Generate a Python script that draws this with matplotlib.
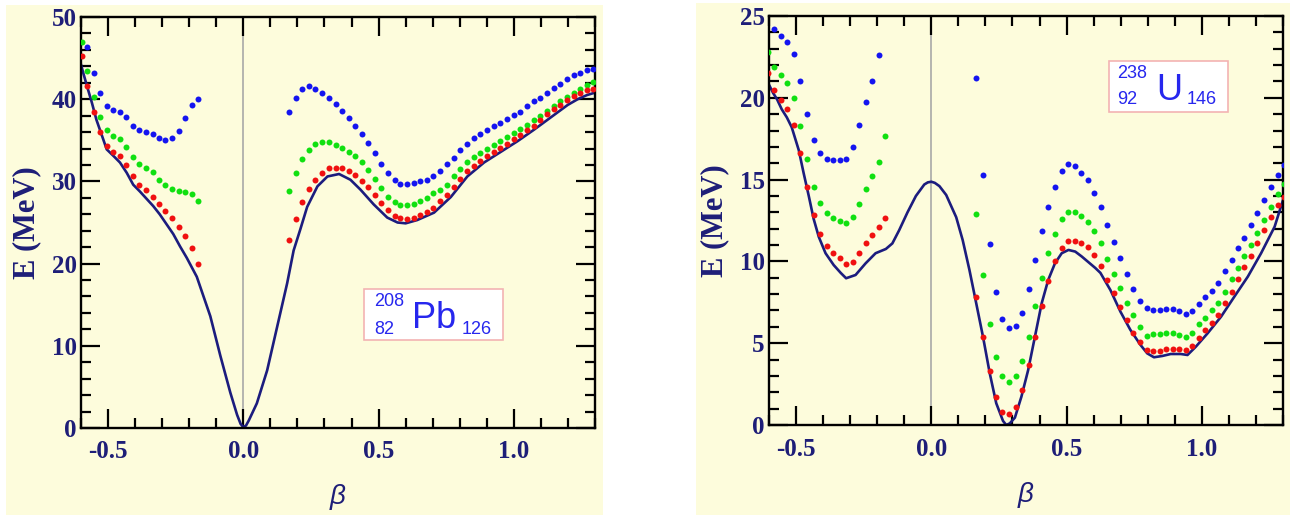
import numpy as np
import matplotlib
matplotlib.use("Agg")
import matplotlib.pyplot as plt
from matplotlib.patches import Rectangle
from matplotlib.ticker import MultipleLocator, FormatStrFormatter

nan = float("nan")

# ---- 208Pb ----
pb_beta_l = [-0.598, -0.577, -0.552, -0.530, -0.505, -0.480, -0.456, -0.433, -0.409, -0.384,
             -0.359, -0.335, -0.310, -0.288, -0.263, -0.238, -0.214, -0.190, -0.166]
pb_blue_l = [nan, 46.4, 43.2, 40.7, 39.2, 38.7, 38.5, 37.8, 36.8, 36.2,
             36.0, 35.8, 35.3, 35.0, 35.3, 36.1, 37.7, 39.3, 40.0]
pb_green_l = [47.0, 43.4, 40.3, 37.8, 36.2, 35.5, 35.1, 34.2, 33.0, 32.1,
              31.6, 31.1, 30.2, 29.6, 29.1, 28.8, 28.7, 28.5, 27.6]
pb_red_l = [45.2, 41.6, 38.4, 36.0, 34.3, 33.6, 33.1, 32.0, 30.6, 29.6,
            28.9, 28.1, 27.3, 26.4, 25.5, 24.5, 23.4, 21.9, 19.9]

pb_beta_r = [0.169, 0.194, 0.217, 0.241, 0.265, 0.291, 0.316, 0.341, 0.365, 0.390,
             0.412, 0.437, 0.462, 0.485, 0.510, 0.535, 0.559, 0.581, 0.606, 0.630,
             0.653, 0.678, 0.703, 0.727, 0.752, 0.777, 0.801, 0.826, 0.851, 0.875,
             0.900, 0.925, 0.949, 0.974, 0.999, 1.023, 1.048, 1.073, 1.097, 1.122,
             1.147, 1.171, 1.196, 1.221, 1.245, 1.270, 1.293]
pb_blue_r = [38.5, 40.1, 41.3, 41.6, 41.3, 40.8, 40.1, 39.4, 38.6, 37.7,
             36.7, 35.8, 34.7, 33.4, 32.15, 31.0, 30.2, 29.7, 29.7, 29.8,
             30.0, 30.2, 30.6, 31.3, 32.1, 32.9, 33.8, 34.6, 35.3, 35.8,
             36.3, 36.7, 37.1, 37.6, 38.1, 38.5, 39.2, 39.8, 40.2, 40.8,
             41.4, 41.9, 42.4, 42.9, 43.2, 43.5, 43.7]
pb_green_r = [28.8, 31.0, 32.7, 33.8, 34.6, 34.8, 34.8, 34.45, 34.1, 33.6,
              33.1, 32.35, 31.4, 30.3, 29.2, 28.1, 27.5, 27.1, 27.1, 27.3,
              27.6, 28.0, 28.6, 29.0, 29.6, 30.6, 31.5, 32.3, 33.0, 33.5,
              34.0, 34.45, 34.9, 35.4, 35.9, 36.4, 36.9, 37.45, 38.0, 38.6,
              39.2, 39.8, 40.3, 40.8, 41.3, 41.7, 42.1]
pb_red_r = [22.9, 25.4, 27.5, 29.1, 30.2, 31.05, 31.6, 31.65, 31.6, 31.25,
            30.8, 30.0, 29.3, 28.4, 27.4, 26.5, 25.8, 25.5, 25.4, 25.55,
            25.9, 26.3, 26.8, 27.6, 28.4, 29.3, 30.3, 31.25, 31.9, 32.5,
            33.1, 33.55, 34.1, 34.6, 35.1, 35.7, 36.2, 36.8, 37.45, 38.15,
            38.75, 39.35, 39.95, 40.35, 40.75, 41.1, 41.25]

pb_line_beta = [-0.600, -0.590, -0.577, -0.560, -0.543, -0.525, -0.505, -0.480, -0.456, -0.431,
                -0.407, -0.383, -0.358, -0.333, -0.309, -0.284, -0.259, -0.234, -0.209, -0.172,
                -0.122, -0.085, -0.048, -0.023, -0.010, 0.0, 0.010, 0.020, 0.050, 0.088,
                0.125, 0.162, 0.186, 0.211, 0.236, 0.274, 0.311, 0.354, 0.396, 0.433,
                0.482, 0.532, 0.570, 0.600, 0.643, 0.705, 0.767, 0.828, 0.890, 0.952,
                1.014, 1.075, 1.137, 1.199, 1.236, 1.270, 1.300]
pb_line_e = [44.2, 43.0, 41.5, 39.6, 37.5, 35.8, 33.9, 33.1, 32.3, 31.05,
             29.6, 28.8, 27.9, 27.0, 26.0, 24.8, 23.6, 22.1, 20.7, 18.4,
             13.6, 8.8, 4.3, 1.6, 0.5, 0.1, 0.3, 0.9, 3.0, 7.0,
             12.3, 17.6, 21.6, 24.2, 26.9, 29.4, 30.6, 30.9, 30.2, 29.0,
             27.2, 25.6, 25.0, 24.9, 25.3, 26.2, 28.1, 30.6, 32.3, 33.6,
             34.9, 36.3, 37.8, 39.3, 40.0, 40.5, 40.8]

# ---- 238U ----
u_beta_l = [-0.602, -0.580, -0.555, -0.532, -0.509, -0.484, -0.460, -0.435, -0.410, -0.385,
            -0.362, -0.338, -0.315, -0.290, -0.267, -0.242, -0.218, -0.194, -0.170]
u_blue_l = [nan, 24.2, 23.8, 23.4, 22.7, 21.0, 19.0, 17.45, 16.65, 16.25,
            16.2, 16.17, 16.25, 17.0, 18.35, 19.75, 21.0, 22.6, nan]
u_green_l = [22.8, 21.9, 21.4, 20.9, 20.0, 18.25, 16.25, 14.55, 13.55, 12.95,
             12.65, 12.45, 12.35, 12.7, 13.5, 14.45, 15.2, 16.05, 17.65]
u_red_l = [21.5, 20.5, 19.85, 19.3, 18.35, 16.6, 14.55, 12.85, 11.7, 10.95,
           10.5, 10.2, 9.85, 9.96, 10.5, 11.1, 11.6, 12.1, 12.65]

u_beta_r = [0.167, 0.191, 0.216, 0.238, 0.263, 0.287, 0.312, 0.337, 0.361, 0.384,
            0.409, 0.432, 0.457, 0.482, 0.506, 0.530, 0.554, 0.579, 0.602, 0.627,
            0.649, 0.674, 0.699, 0.724, 0.746, 0.771, 0.796, 0.821, 0.844, 0.867,
            0.892, 0.916, 0.940, 0.964, 0.988, 1.013, 1.037, 1.061, 1.086, 1.110,
            1.134, 1.157, 1.181, 1.204, 1.228, 1.255, 1.280, 1.302]
u_blue_r = [21.2, 15.3, 11.05, 8.15, 6.5, 5.9, 6.05, 6.85, 8.3, 10.1,
            11.85, 13.3, 14.55, 15.5, 15.95, 15.85, 15.4, 14.95, 14.2, 13.3,
            12.25, 11.2, 10.2, 9.25, 8.3, 7.6, 7.15, 7.0, 7.05, 7.1,
            7.1, 6.95, 6.8, 6.95, 7.4, 7.85, 8.2, 8.7, 9.4, 10.1,
            10.8, 11.45, 12.2, 12.95, 13.75, 14.55, 15.3, 15.9]
u_green_r = [12.9, 9.15, 6.2, 4.15, 3.0, 2.65, 3.0, 3.9, 5.35, 7.25,
             9.0, 10.5, 11.7, 12.6, 13.0, 13.0, 12.75, 12.4, 11.85, 11.1,
             10.15, 9.25, 8.35, 7.45, 6.7, 6.0, 5.45, 5.55, 5.55, 5.6,
             5.6, 5.5, 5.4, 5.65, 6.15, 6.55, 7.0, 7.45, 8.15, 8.9,
             9.6, 10.3, 11.0, 11.75, 12.55, 13.35, 14.1, 14.75]
u_red_r = [7.8, 5.35, 3.3, 1.7, 0.8, 0.65, 1.1, 2.15, 3.65, 5.4,
           7.25, 8.8, 10.0, 10.8, 11.25, 11.25, 11.1, 10.85, 10.4, 9.7,
           8.85, 8.05, 7.2, 6.4, 5.65, 5.05, 4.6, 4.55, 4.55, 4.65,
           4.65, 4.65, 4.6, 4.85, 5.3, 5.8, 6.25, 6.75, 7.45, 8.15,
           8.9, 9.65, 10.35, 11.1, 11.9, 12.7, 13.45, 13.95]

u_line_beta = [-0.600, -0.585, -0.570, -0.553, -0.534, -0.516, -0.490, -0.472, -0.453, -0.435,
               -0.416, -0.391, -0.361, -0.335, -0.315, -0.280, -0.243, -0.206, -0.168, -0.144,
               -0.119, -0.088, -0.057, -0.026, -0.013, 0.0, 0.013, 0.030, 0.055, 0.092,
               0.116, 0.141, 0.166, 0.191, 0.216, 0.240, 0.265, 0.277, 0.290, 0.309,
               0.333, 0.358, 0.383, 0.408, 0.432, 0.457, 0.482, 0.507, 0.532, 0.556,
               0.581, 0.606, 0.625, 0.662, 0.699, 0.736, 0.773, 0.798, 0.823, 0.854,
               0.885, 0.922, 0.947, 0.978, 1.021, 1.071, 1.120, 1.170, 1.219, 1.269,
               1.300]
u_line_e = [20.8, 20.3, 19.9, 19.3, 18.8, 18.2, 16.8, 15.4, 14.0, 12.6,
            11.5, 10.5, 9.78, 9.3, 8.97, 9.17, 9.88, 10.5, 10.76, 11.1,
            11.9, 13.0, 14.0, 14.7, 14.83, 14.87, 14.8, 14.6, 14.06, 12.7,
            11.3, 9.47, 7.44, 5.4, 3.16, 1.33, 0.25, 0.0, 0.1, 0.45,
            1.73, 3.36, 5.4, 7.44, 8.86, 9.88, 10.5, 10.7, 10.6, 10.3,
            9.95, 9.6, 9.3, 8.25, 6.93, 5.81, 4.9, 4.38, 4.14, 4.22,
            4.34, 4.34, 4.28, 4.79, 5.6, 6.62, 7.84, 9.07, 10.5, 12.12,
            13.75]

W, H = 1290, 515
YELLOW = "#fdfcdc"
NAVY = "#1c1c7e"
TXT = "#1e1e78"
BLUE = "#1414f0"
GREEN = "#10e010"
RED = "#f01010"
LBLUE = "#2727ee"

plt.rcParams["axes.unicode_minus"] = False
plt.rcParams["mathtext.fontset"] = "custom"
plt.rcParams["mathtext.it"] = "Liberation Sans:italic"

fig = plt.figure(figsize=(W / 100, H / 100), dpi=100)
fig.patch.set_facecolor("white")


def frac(x, y):
    return x / W, 1 - y / H


# yellow panel backgrounds
fig.add_artist(Rectangle((6 / W, 0), 597 / W, 510 / H, transform=fig.transFigure,
                         fc=YELLOW, ec="none", zorder=-2))
fig.add_artist(Rectangle((696 / W, 0), 594 / W, 512 / H, transform=fig.transFigure,
                         fc=YELLOW, ec="none", zorder=-2))


def panel(rect, ymax, ymaj, ymin, beta_l, bl, gl, rl, beta_r, br, gr, rr, lb, le, xlab_y):
    ax = fig.add_axes(rect)
    ax.set_facecolor(YELLOW)
    ax.axvline(0, color="#a8a8a8", lw=1.2, zorder=1)
    ax.plot(lb, le, color=NAVY, lw=1.9, zorder=2)
    for xs, ys, c in [(beta_l, bl, BLUE), (beta_l, gl, GREEN), (beta_l, rl, RED),
                      (beta_r, br, BLUE), (beta_r, gr, GREEN), (beta_r, rr, RED)]:
        ax.plot(xs, ys, "o", color=c, ms=4.3, mew=0, zorder=3)
    ax.set_xlim(-0.6, 1.3)
    ax.set_ylim(0, ymax)
    ax.xaxis.set_major_locator(MultipleLocator(0.5))
    ax.xaxis.set_minor_locator(MultipleLocator(0.1))
    ax.xaxis.set_major_formatter(FormatStrFormatter("%.1f"))
    ax.yaxis.set_major_locator(MultipleLocator(ymaj))
    ax.yaxis.set_minor_locator(MultipleLocator(ymin))
    for s in ax.spines.values():
        s.set_linewidth(1.7)
    ax.tick_params(which="both", direction="in", top=True, right=True, width=1.6,
                   colors="black", labelcolor=TXT)
    ax.tick_params(which="major", length=13.5)
    ax.tick_params(which="minor", length=7.5)
    ax.tick_params(axis="x", pad=9)
    ax.tick_params(axis="y", pad=3)
    for lab in ax.get_xticklabels() + ax.get_yticklabels():
        lab.set_fontfamily("Liberation Serif")
        lab.set_fontweight("bold")
        lab.set_fontsize(18)
    ax.set_ylabel("E (MeV)", family="Liberation Serif", weight="bold", fontsize=22,
                  color=TXT, va="center")
    ax.yaxis.set_label_coords(-0.105, 0.5)
    ax.set_xlabel(r"$\beta$", fontsize=20, color=TXT, va="center")
    ax.xaxis.set_label_coords(0.5, xlab_y)
    return ax


ax1 = panel([81 / W, 87 / H, 514 / W, 411 / H], 50, 10, 2,
            pb_beta_l, pb_blue_l, pb_green_l, pb_red_l,
            pb_beta_r, pb_blue_r, pb_green_r, pb_red_r,
            pb_line_beta, pb_line_e, -0.168)
ax2 = panel([769 / W, 90 / H, 514 / W, 409 / H], 25, 5, 1,
            u_beta_l, u_blue_l, u_green_l, u_red_l,
            u_beta_r, u_blue_r, u_green_r, u_red_r,
            u_line_beta, u_line_e, -0.171)


def nucleus(box, a, z, sym, n, xa, xs, xn, ya, yz, ysym):
    x0, y0, x1, y1 = box
    fig.add_artist(Rectangle((x0 / W, 1 - y1 / H), (x1 - x0) / W, (y1 - y0) / H,
                             transform=fig.transFigure, fc="white", ec="#f3b3b3",
                             lw=1.2, zorder=5))
    kw = dict(family="Liberation Sans", color=LBLUE, zorder=6)
    fig.text(*frac(xa, ya), a, fontsize=13, ha="left", va="center", **kw)
    fig.text(*frac(xa, yz), z, fontsize=13, ha="left", va="center", **kw)
    fig.text(*frac(xs, ysym), sym, fontsize=26, ha="left", va="baseline", **kw)
    fig.text(*frac(xn, yz), n, fontsize=13, ha="left", va="center", **kw)


nucleus((364, 289, 503, 340), "208", "82", "Pb", "126", 374, 412, 462, 302, 329, 328)
nucleus((1109, 61, 1228, 112), "238", "92", "U", "146", 1117, 1156, 1187, 74, 100, 100)

fig.savefig("out.png", dpi=100)
